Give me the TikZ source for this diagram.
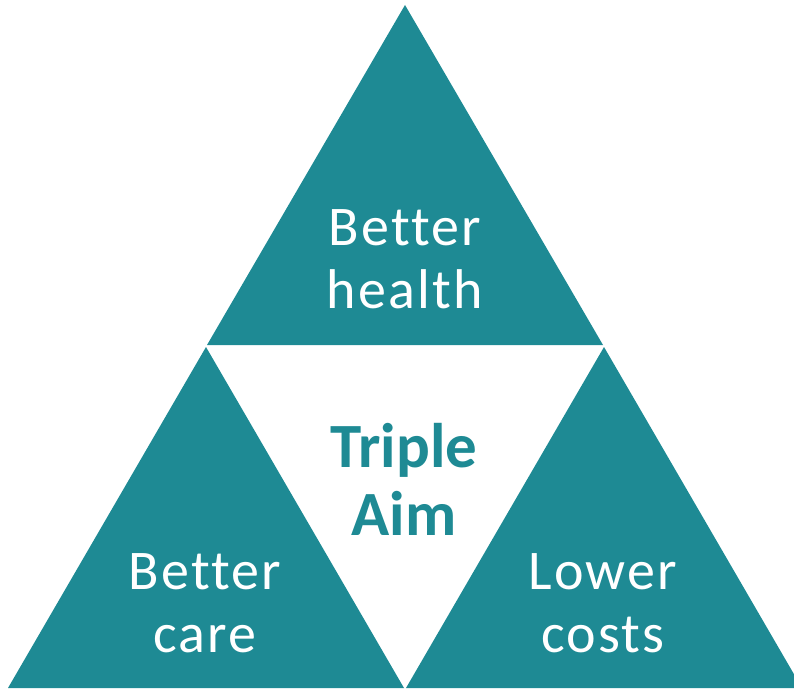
\documentclass[tikz,border=0pt]{standalone}
\usepackage{fontspec}
\setmainfont[Ligatures={NoCommon,NoContextual},Contextuals=NoAlternate]{Carlito}
\newfontfamily\spacedfont[Ligatures={NoCommon,NoContextual},LetterSpace=4]{Carlito}
\definecolor{teal1}{RGB}{30,138,148}
\tikzset{
  tri/.style={fill=teal1, draw=none},
  lbl/.style={text=white, align=center, inner sep=0pt, font=\spacedfont\fontsize{56}{63}\selectfont},
  mid/.style={text=teal1, align=center, inner sep=0pt, font=\bfseries\fontsize{63}{68}\selectfont}
}
\begin{document}
\begin{tikzpicture}[x=1pt,y=-1pt]
  \useasboundingbox (0,0) rectangle (794,690);
  \clip (0,0) rectangle (794,690);
  \coordinate (A) at (405,5);
  \coordinate (B) at (207,345);
  \coordinate (C) at (603,345);
  \coordinate (D) at (206,347);
  \coordinate (E) at (8,688);
  \coordinate (F) at (404,688);
  \coordinate (G) at (604,347);
  \coordinate (H) at (406,688);
  \coordinate (I) at (802,688);
  \fill[tri] (A) -- (B) -- (C) -- cycle;
  \fill[tri] (D) -- (E) -- (F) -- cycle;
  \fill[tri] (G) -- (H) -- (I) -- cycle;
  \node[lbl] (health) at (405,259) {Better\\health};
  \node[mid] (aim) at (404,479) {Triple\\Aim};
  \node[lbl] (care) at (205,603) {Better\\care};
  \node[lbl] (costs) at (603,603) {Lower\\costs};
\end{tikzpicture}
\end{document}
